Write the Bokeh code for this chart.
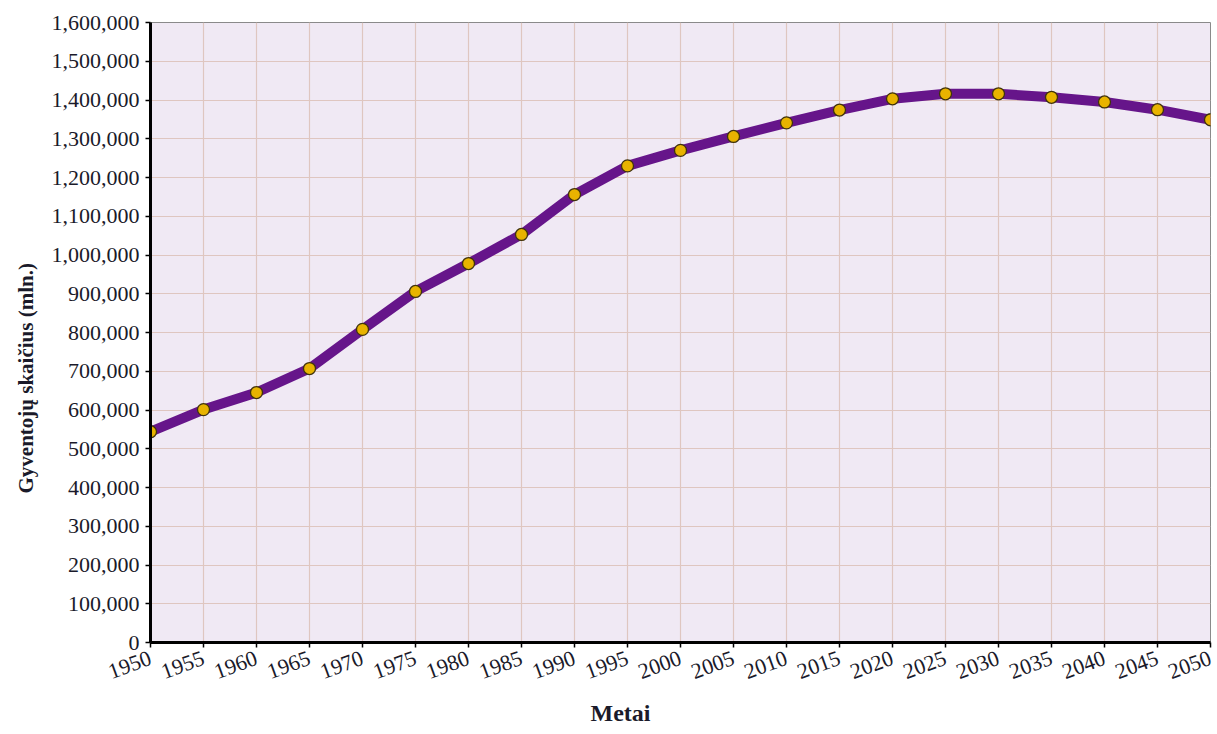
import math
from bokeh.plotting import figure
from bokeh.models import NumeralTickFormatter, FixedTicker, Range1d, Title
from bokeh.embed import file_html
from bokeh.resources import INLINE

years = [1950, 1955, 1960, 1965, 1970, 1975, 1980, 1985, 1990, 1995, 2000,
         2005, 2010, 2015, 2020, 2025, 2030, 2035, 2040, 2045, 2050]
population = [544000, 601000, 645000, 707000, 808000, 906000, 978000, 1053000,
              1156000, 1230000, 1270000, 1306000, 1341000, 1374000, 1403000,
              1416000, 1416000, 1407000, 1395000, 1375000, 1349000]
y_ticks = list(range(0, 1600001, 100000))
x_ticks = years

SERIF = "Liberation Serif"

p = figure(width=1215, height=734, output_backend="svg", toolbar_location=None,
           x_range=Range1d(1950, 2050), y_range=Range1d(0, 1600000),
           min_border_left=150, min_border_right=5, min_border_top=22,
           min_border_bottom=92)

p.background_fill_color = "#F0E9F4"
p.border_fill_color = "white"
p.outline_line_color = "#8a8a8a"
p.outline_line_width = 1

p.xgrid.ticker = FixedTicker(ticks=x_ticks)
p.ygrid.ticker = FixedTicker(ticks=y_ticks)
for g in (p.xgrid, p.ygrid):
    g.grid_line_color = "#DFC6C0"
    g.grid_line_width = 1.2

p.xaxis.ticker = FixedTicker(ticks=x_ticks)
p.yaxis.ticker = FixedTicker(ticks=y_ticks)
p.yaxis.formatter = NumeralTickFormatter(format="0,0")

for ax in (p.xaxis, p.yaxis):
    ax.axis_line_color = "black"
    ax.axis_line_width = 3
    ax.major_tick_line_color = "black"
    ax.major_tick_line_width = 1.5
    ax.major_tick_in = 0
    ax.major_tick_out = 5
    ax.minor_tick_line_color = None
    ax.major_label_text_font = SERIF
    ax.major_label_text_font_size = "22px"
    ax.major_label_text_color = "#1a1a2a"

p.yaxis.major_label_standoff = 6
p.xaxis.major_label_orientation = math.radians(20)
p.xaxis.major_label_standoff = 10

p.line(years, population, line_color="#66158A", line_width=10, line_cap="round",
       line_join="round")
p.scatter(years, population, size=12, fill_color="#E8B300",
          line_color="#3f330c", line_width=1.3)

ytitle = Title(text="Gyventojų skaičius (mln.)", align="left", offset=149,
               standoff=22, text_font=SERIF, text_font_size="21px",
               text_font_style="bold", text_color="#1a1a2a")
p.add_layout(ytitle, "left")

xtitle = Title(text="Metai", align="left", offset=440, standoff=18,
               text_font=SERIF, text_font_size="24px", text_font_style="bold",
               text_color="#1a1a2a")
p.add_layout(xtitle, "below")

open("out.html", "w").write(file_html(p, INLINE))
